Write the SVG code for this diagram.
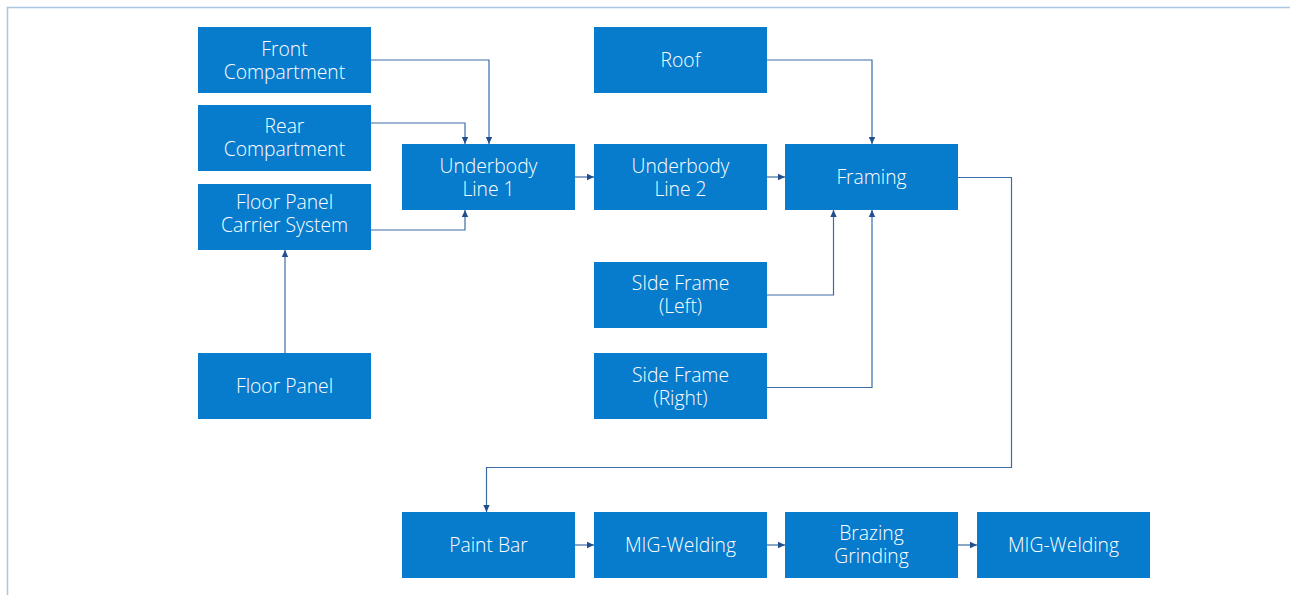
<svg xmlns="http://www.w3.org/2000/svg" width="1290" height="595" viewBox="0 0 1290 595">
<style>
.box{fill:#077ccd}
.t{font-family:"Open Sans","Noto Sans","Liberation Sans",sans-serif;font-size:19.3px;font-weight:300;fill:#ffffff;text-anchor:middle}
.c{fill:none;stroke:#3b6ca8;stroke-width:1.2}
</style>
<defs>
<marker id="ah" markerUnits="userSpaceOnUse" markerWidth="8" markerHeight="8" refX="7" refY="4" orient="auto">
<path d="M0,0.8 L7,4 L0,7.2 Z" fill="#1f4f8f"/>
</marker>
</defs>
<rect x="7.5" y="7.5" width="1300" height="600" fill="none" stroke="#a9c7e3" stroke-width="1.5"/>
<g id="connectors">
<path class="c" d="M371,60 H489 V144" marker-end="url(#ah)"/>
<path class="c" d="M371,123 H465 V144" marker-end="url(#ah)"/>
<path class="c" d="M371,230 H465 V210" marker-end="url(#ah)"/>
<path class="c" d="M285,353 V250" marker-end="url(#ah)"/>
<path class="c" d="M575,177 H594" marker-end="url(#ah)"/>
<path class="c" d="M767,177 H785" marker-end="url(#ah)"/>
<path class="c" d="M767,60 H872 V144" marker-end="url(#ah)"/>
<path class="c" d="M767,295 H833.5 V210" marker-end="url(#ah)"/>
<path class="c" d="M767,387.5 H872 V210" marker-end="url(#ah)"/>
<path class="c" d="M958,177.5 H1011.5 V467.5 H486.5 V512" marker-end="url(#ah)"/>
<path class="c" d="M575,545 H594" marker-end="url(#ah)"/>
<path class="c" d="M767,545 H785" marker-end="url(#ah)"/>
<path class="c" d="M958,545 H977" marker-end="url(#ah)"/>
</g>
<g id="front"><rect class="box" x="198" y="27" width="173" height="66"/><text class="t" x="284.5" y="56">Front</text><text class="t" x="284.5" y="79">Compartment</text></g>
<g id="rear"><rect class="box" x="198" y="105" width="173" height="66"/><text class="t" x="284.5" y="133">Rear</text><text class="t" x="284.5" y="156">Compartment</text></g>
<g id="carrier"><rect class="box" x="198" y="184" width="173" height="66"/><text class="t" x="284.5" y="209">Floor Panel</text><text class="t" x="284.5" y="232">Carrier System</text></g>
<g id="floor"><rect class="box" x="198" y="353" width="173" height="66"/><text class="t" x="284.5" y="393">Floor Panel</text></g>
<g id="ul1"><rect class="box" x="402" y="144" width="173" height="66"/><text class="t" x="488.5" y="173">Underbody</text><text class="t" x="488.5" y="196">Line 1</text></g>
<g id="ul2"><rect class="box" x="594" y="144" width="173" height="66"/><text class="t" x="680.5" y="173">Underbody</text><text class="t" x="680.5" y="196">Line 2</text></g>
<g id="roof"><rect class="box" x="594" y="27" width="173" height="66"/><text class="t" x="680.5" y="67">Roof</text></g>
<g id="framing"><rect class="box" x="785" y="144" width="173" height="66"/><text class="t" x="871.5" y="184">Framing</text></g>
<g id="sideleft"><rect class="box" x="594" y="262" width="173" height="66"/><text class="t" x="680.5" y="290">SIde Frame</text><text class="t" x="680.5" y="313">(Left)</text></g>
<g id="sideright"><rect class="box" x="594" y="353" width="173" height="66"/><text class="t" x="680.5" y="382">Side Frame</text><text class="t" x="680.5" y="405">(Right)</text></g>
<g id="paint"><rect class="box" x="402" y="512" width="173" height="66"/><text class="t" x="488.5" y="552">Paint Bar</text></g>
<g id="mig1"><rect class="box" x="594" y="512" width="173" height="66"/><text class="t" x="680.5" y="552">MIG-Welding</text></g>
<g id="brazing"><rect class="box" x="785" y="512" width="173" height="66"/><text class="t" x="871.5" y="540">Brazing</text><text class="t" x="871.5" y="563">Grinding</text></g>
<g id="mig2"><rect class="box" x="977" y="512" width="173" height="66"/><text class="t" x="1063.5" y="552">MIG-Welding</text></g>
</svg>
